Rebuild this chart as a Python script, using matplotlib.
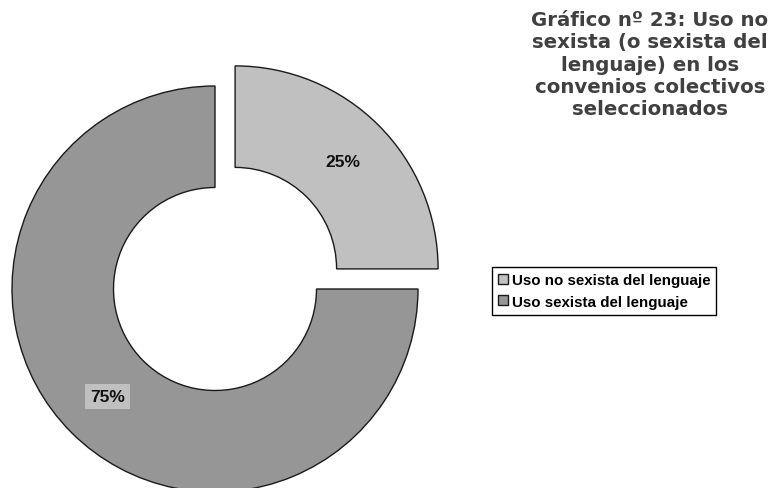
import matplotlib.pyplot as plt

# datos del gráfico
labels = ['Uso no sexista del lenguaje', 'Uso sexista del lenguaje']
values = [25, 75]
colors = ['#C0C0C0', '#969696']
title = ('Gráfico nº 23: Uso no\nsexista (o sexista del\nlenguaje) en los\n'
         'convenios colectivos\nseleccionados')

W, H = 783, 489
fig = plt.figure(figsize=(W / 100, H / 100), dpi=100)
ax = fig.add_axes([0, 0, 1, 1])

# ejes en píxeles: radio y centro del anillo
R = 203
cx, cy = 215, H - 290
wedges, texts, autotexts = ax.pie(
    values, colors=colors, startangle=90, counterclock=False,
    center=(cx, cy), radius=R, explode=[0.14 * R, 0],
    wedgeprops=dict(width=R * 0.5, edgecolor='#1a1a1a', linewidth=1.0),
    autopct='%d%%', pctdistance=0.75,
    textprops=dict(fontsize=12.5, fontweight='bold', family='Liberation Sans',
                   color='#111111'))
autotexts[1].set_bbox(dict(boxstyle='square,pad=0.3', facecolor='#C0C0C0',
                           edgecolor='none'))

ax.set_xlim(0, W)
ax.set_ylim(0, H)
ax.set_aspect('equal')
ax.axis('off')

fig.text(650 / W, 1 - 11 / H, title, ha='center', va='top', fontsize=14.2,
         fontweight='bold', color='#404040', family='DejaVu Sans',
         linespacing=1.22)

leg = ax.legend(wedges, labels, loc='upper left',
                bbox_to_anchor=(492 / W, 1 - 268 / H),
                bbox_transform=fig.transFigure, frameon=True, fancybox=False,
                edgecolor='black', framealpha=1,
                prop=dict(family='Liberation Sans', weight='bold', size=10.9),
                handlelength=0.65, handleheight=0.65, handletextpad=0.25,
                borderpad=0.4, labelspacing=0.5, borderaxespad=0)
leg.get_frame().set_linewidth(1.0)

fig.savefig('out.png', dpi=100)
